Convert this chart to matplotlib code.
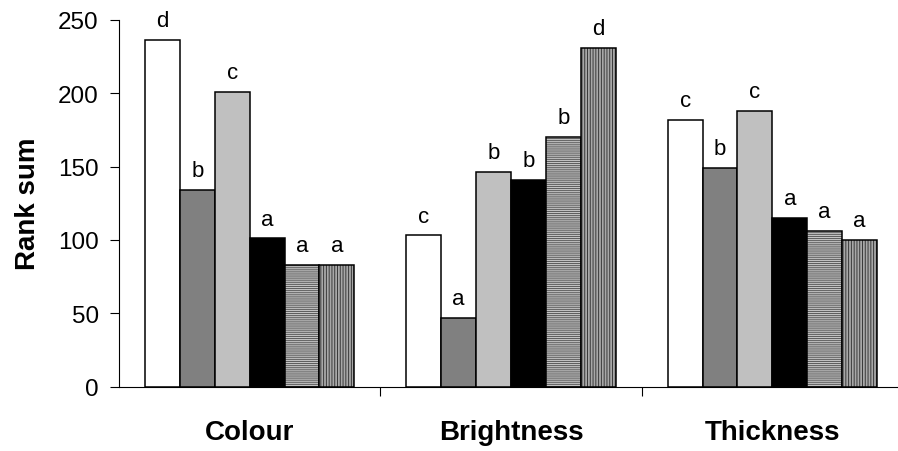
import matplotlib.pyplot as plt
import numpy as np

plt.rcParams['font.family'] = ['Liberation Sans', 'DejaVu Sans']
plt.rcParams['hatch.linewidth'] = 0.7

# rank sums per trait, six treatments each
categories = ['Colour', 'Brightness', 'Thickness']
colour_vals = [236, 134, 201, 101, 83, 83]
brightness_vals = [103, 47, 146, 141, 170, 231]
thickness_vals = [182, 149, 188, 115, 106, 100]
colour_letters = ['d', 'b', 'c', 'a', 'a', 'a']
brightness_letters = ['c', 'a', 'b', 'b', 'b', 'd']
thickness_letters = ['c', 'b', 'c', 'a', 'a', 'a']

values = [colour_vals, brightness_vals, thickness_vals]
letters = [colour_letters, brightness_letters, thickness_letters]

# fill, hatch, hatch colour for each of the six treatments
styles = [
    ('white', '', None),
    ('#808080', '', None),
    ('#c0c0c0', '', None),
    ('black', '', None),
    ('#c4c4c4', '--------', '#5a5a5a'),
    ('#a8a8a8', '||||||', '#383838'),
]

fig = plt.figure(figsize=(8.98, 4.52), dpi=100)
ax = fig.add_axes([119 / 898, 64.3 / 452, 784 / 898, 367 / 452])

n = 6
w = 0.8 / n
x = np.arange(len(categories))
for i in range(n):
    pos = x - 0.4 + w * (i + 0.5)
    h = [v[i] for v in values]
    face, hatch, hcol = styles[i]
    if hatch:
        ax.bar(pos, h, w, color=face, edgecolor=hcol, hatch=hatch, linewidth=0)
        ax.bar(pos, h, w, fill=False, edgecolor='black', linewidth=1.1)
    else:
        ax.bar(pos, h, w, color=face, edgecolor='black', linewidth=1.1)
    for j in range(len(categories)):
        ax.annotate(letters[j][i], (pos[j], h[j]), xytext=(0, 10),
                    textcoords='offset points', ha='center', va='baseline',
                    fontsize=16)

ax.set_xlim(-0.5, 2.5)
ax.set_ylim(0, 250)
ax.set_yticks([0, 50, 100, 150, 200, 250])
ax.set_xticks([0.5, 1.5, 2.5])
ax.set_xticklabels([])
ax.set_xticks(x, minor=True)
ax.set_xticklabels(categories, minor=True, fontsize=20, fontweight='bold')
ax.tick_params(axis='x', which='minor', length=0, pad=23)
ax.tick_params(axis='x', which='major', direction='out', length=6.5, width=0.8)
ax.tick_params(axis='y', direction='out', length=6.5, width=0.8, pad=8,
               labelsize=17.5)

ax.spines['top'].set_visible(False)
ax.spines['right'].set_visible(False)
ax.spines['left'].set_linewidth(0.8)
ax.spines['bottom'].set_linewidth(0.8)

ax.set_ylabel('Rank sum', fontsize=20, fontweight='bold')
ax.yaxis.set_label_coords(-0.1, 0.5)

fig.savefig('out.png', dpi=100)
